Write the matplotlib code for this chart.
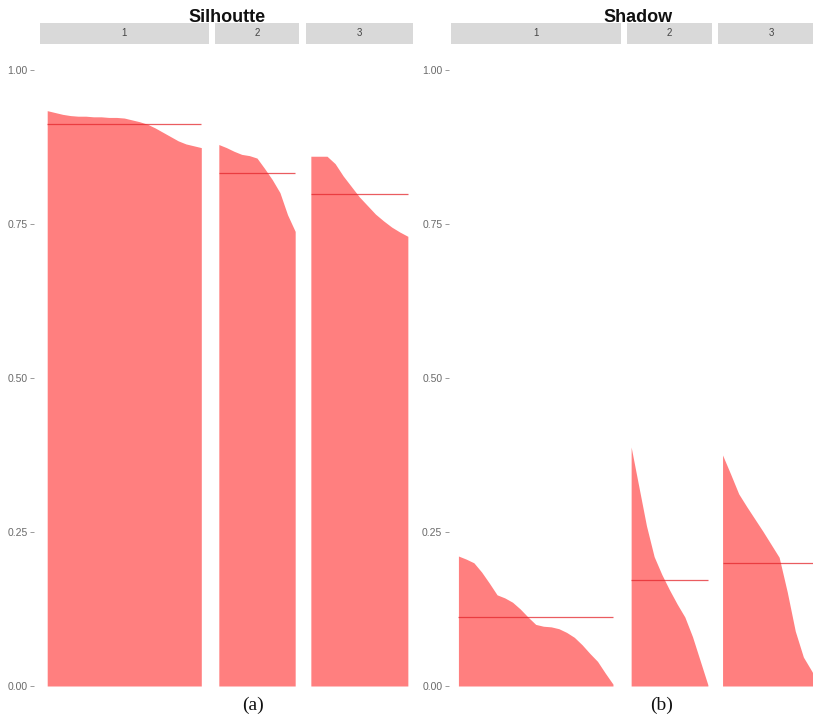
import matplotlib

matplotlib.use("Agg")
import matplotlib.pyplot as plt
import numpy as np
from matplotlib.patches import Rectangle

W, H = 813, 718  # output size in pixels (dpi 100)

# ---------------------------------------------------------------- data
# sorted per-observation scores for each cluster, read off the picture
silhouette_c1 = [0.934, 0.931, 0.928, 0.926, 0.925, 0.925, 0.924, 0.924, 0.923,
                 0.923, 0.922, 0.919, 0.916, 0.912, 0.906, 0.899, 0.892, 0.885,
                 0.880, 0.877, 0.874]
silhouette_c2 = [0.879, 0.874, 0.868, 0.863, 0.861, 0.857, 0.840, 0.822, 0.801,
                 0.765, 0.738]
silhouette_c3 = [0.860, 0.860, 0.860, 0.848, 0.828, 0.811, 0.794, 0.780, 0.766,
                 0.755, 0.745, 0.737, 0.730]

shadow_c1 = [0.211, 0.206, 0.200, 0.185, 0.167, 0.148, 0.143, 0.136, 0.125,
             0.112, 0.100, 0.097, 0.096, 0.093, 0.087, 0.079, 0.067, 0.053,
             0.040, 0.021, 0.003]
shadow_c2 = [0.388, 0.324, 0.260, 0.210, 0.181, 0.156, 0.133, 0.112, 0.080,
             0.041, 0.002]
shadow_c3 = [0.375, 0.344, 0.312, 0.291, 0.271, 0.251, 0.230, 0.209, 0.153,
             0.089, 0.047, 0.025, 0.002]

cluster_labels = ["1", "2", "3"]
panel_titles = ["Silhoutte", "Shadow"]
captions = ["(a)", "(b)"]
y_ticks = [0.00, 0.25, 0.50, 0.75, 1.00]

# ---------------------------------------------------------------- layout
FILL = "#ff7f7f"
MEAN = "#e3262b"
STRIP = "#d9d9d9"

STRIP_TOP, STRIP_BOT = 23, 44
PANEL_TOP, PANEL_BOT = 45, 695
Y0_PX, Y1_PX = 686, 70  # pixel rows of 0.00 and 1.00

groups = [
    {"title": panel_titles[0], "title_x": 227, "caption": captions[0], "cap_x": 253,
     "series": [silhouette_c1, silhouette_c2, silhouette_c3],
     "edges": [(39.5, 209), (215, 299), (306, 412.7)], "tick_gap": 4},
    {"title": panel_titles[1], "title_x": 638, "caption": captions[1], "cap_x": 662,
     "series": [shadow_c1, shadow_c2, shadow_c3],
     "edges": [(450.7, 620.7), (627.3, 711.7), (717.7, 824.4)], "tick_gap": 1.5},
]


def px_box(x0, y0, x1, y1):
    return [x0 / W, 1 - y1 / H, (x1 - x0) / W, (y1 - y0) / H]


def px_val(py):
    return (Y0_PX - py) / (Y0_PX - Y1_PX)


fig = plt.figure(figsize=(W / 100, H / 100), dpi=100)
fig.patch.set_facecolor("white")

for g in groups:
    for k, (vals, (x0, x1)) in enumerate(zip(g["series"], g["edges"])):
        vals = np.asarray(vals)
        n = len(vals) - 1
        ax = fig.add_axes(px_box(x0, PANEL_TOP, x1, PANEL_BOT))
        x = np.arange(len(vals))
        ax.fill_between(x, vals, 0, color=FILL, lw=0)
        ax.hlines(vals.mean(), 0, n, color=MEAN, lw=0.9, alpha=0.75)
        ax.set_xlim(-0.05 * n, 1.05 * n)
        ax.set_ylim(px_val(PANEL_BOT), px_val(PANEL_TOP))
        for s in ax.spines.values():
            s.set_visible(False)
        ax.set_xticks([])
        if k == 0:
            ax.spines["left"].set_position(("outward", g["tick_gap"]))
            ax.set_yticks(y_ticks, [f"{t:.2f}" for t in y_ticks])
            ax.tick_params(axis="y", length=3, width=0.6, color="#8a8a8a",
                           labelsize=7.5, labelcolor="#6a6a6a", pad=1.5)
            for lab in ax.get_yticklabels():
                lab.set_fontfamily("Liberation Sans")
        else:
            ax.set_yticks([])

        # facet strip
        fig.add_artist(Rectangle((x0 / W, 1 - STRIP_BOT / H), (x1 - x0) / W,
                                 (STRIP_BOT - STRIP_TOP) / H, transform=fig.transFigure,
                                 facecolor=STRIP, edgecolor="none"))
        fig.text((x0 + x1) / 2 / W, 1 - (STRIP_TOP + STRIP_BOT) / 2 / H,
                 cluster_labels[k], ha="center", va="center", fontsize=7,
                 color="#444444", family="Liberation Sans")

    fig.text(g["title_x"] / W, 1 - 21.5 / H, g["title"], ha="center", va="baseline",
             fontsize=13, fontweight="bold", family="Liberation Sans", color="#111111")
    fig.text(g["cap_x"] / W, 1 - 705 / H, g["caption"], ha="center", va="center",
             fontsize=14, family="Liberation Serif", color="#111111")

fig.savefig("out.png", dpi=100)
